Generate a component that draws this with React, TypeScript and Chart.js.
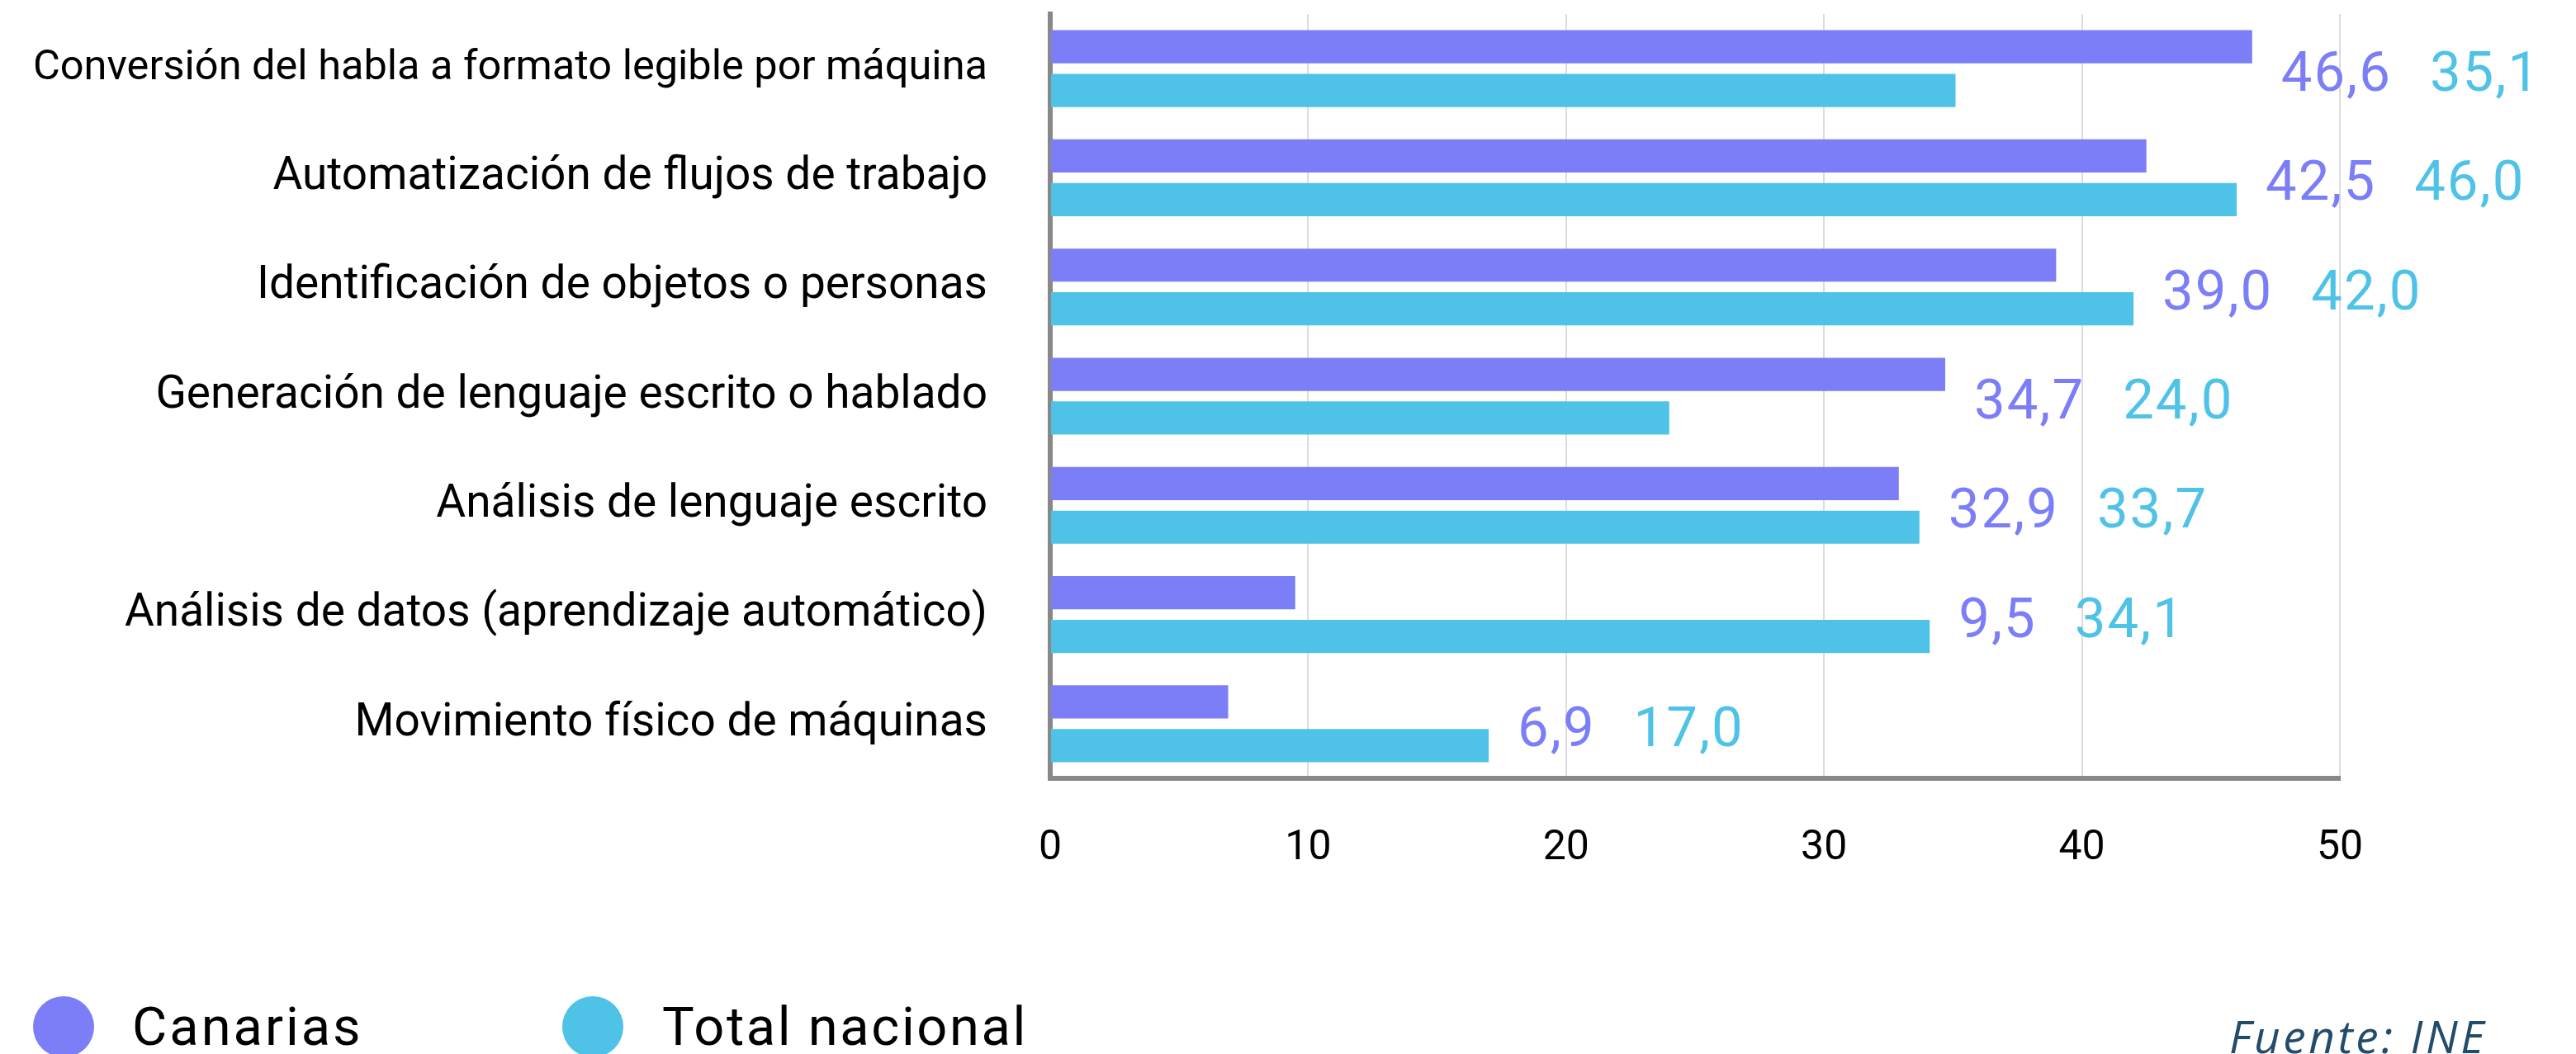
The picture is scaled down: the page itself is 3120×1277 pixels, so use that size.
import React, { useEffect, useRef } from "react";
import { Chart, registerables } from "chart.js";

Chart.register(...registerables);

const categories = [
  "Conversión del habla a formato legible por máquina",
  "Automatización de flujos de trabajo",
  "Identificación de objetos o personas",
  "Generación de lenguaje escrito o hablado",
  "Análisis de lenguaje escrito",
  "Análisis de datos (aprendizaje automático)",
  "Movimiento físico de máquinas",
];
const canariasValues = [46.6, 42.5, 39.0, 34.7, 32.9, 9.5, 6.9];
const nacionalValues = [35.1, 46.0, 42.0, 24.0, 33.7, 34.1, 17.0];
const seriesNames = ["Canarias", "Total nacional"];
const sourceText = "Fuente: INE";

const PURPLE = "#7b7ef7";
const CYAN = "#4fc2e7";
const FONT = "Roboto";

const fmt = (v: number) => v.toFixed(1).replace(".", ",");

const valueLabelPlugin = {
  id: "valueLabels",
  afterDatasetsDraw(chart: any) {
    const ctx = chart.ctx;
    const m0 = chart.getDatasetMeta(0);
    const m1 = chart.getDatasetMeta(1);
    ctx.save();
    ctx.font = `67px ${FONT}`;
    (ctx as any).letterSpacing = "2px";
    ctx.textBaseline = "alphabetic";
    ctx.textAlign = "left";
    for (let i = 0; i < categories.length; i++) {
      const b0 = m0.data[i];
      const b1 = m1.data[i];
      const x = Math.max(b0.x, b1.x) + 35;
      const y = (b0.y + b1.y) / 2 + 27;
      const t0 = fmt(chart.data.datasets[0].data[i]);
      const t1 = fmt(chart.data.datasets[1].data[i]);
      ctx.fillStyle = chart.data.datasets[0].backgroundColor;
      ctx.fillText(t0, x, y);
      const w0 = ctx.measureText(t0).width;
      ctx.fillStyle = chart.data.datasets[1].backgroundColor;
      ctx.fillText(t1, x + w0 + 46, y);
    }
    ctx.restore();
  },
};

const legendPlugin = {
  id: "customLegend",
  afterDraw(chart: any) {
    const ctx = chart.ctx;
    const items = [
      { cx: 77, tx: 160 },
      { cx: 718, tx: 802 },
    ];
    ctx.save();
    chart.data.datasets.forEach((ds: any, i: number) => {
      const it = items[i];
      ctx.fillStyle = ds.backgroundColor;
      ctx.beginPath();
      ctx.arc(it.cx, 1244, 37, 0, Math.PI * 2);
      ctx.fill();
      ctx.fillStyle = "#000";
      ctx.font = `65px ${FONT}`;
      (ctx as any).letterSpacing = i === 0 ? "3px" : "2.6px";
      ctx.textBaseline = "alphabetic";
      ctx.textAlign = "left";
      ctx.fillText(ds.label, it.tx, 1266);
    });
    ctx.fillStyle = "#234b6b";
    ctx.font = `italic 55px "Open Sans"`;
    (ctx as any).letterSpacing = "3.6px";
    ctx.fillText(sourceText, 2700, 1276);
    ctx.restore();
  },
};

export default function App() {
  const ref = useRef<HTMLCanvasElement>(null);
  useEffect(() => {
    if (!ref.current) return;
    const chart = new Chart(ref.current, {
      type: "bar",
      data: {
        labels: categories,
        datasets: [
          {
            label: seriesNames[0],
            data: canariasValues,
            backgroundColor: PURPLE,
            borderWidth: 0,
          },
          {
            label: seriesNames[1],
            data: nacionalValues,
            backgroundColor: CYAN,
            borderWidth: 0,
          },
        ],
      },
      options: {
        indexAxis: "y",
        animation: false,
        responsive: false,
        devicePixelRatio: 1,
        datasets: {
          bar: { categoryPercentage: 0.8, barPercentage: 0.76 },
        },
        layout: { padding: { top: 17, right: 286, left: 0, bottom: 0 } },
        plugins: {
          legend: { display: false },
          tooltip: { enabled: false },
        },
        scales: {
          x: {
            min: 0,
            max: 50,
            ticks: {
              stepSize: 10,
              color: "#000",
              font: { family: FONT, size: 50 },
              padding: 55,
            },
            grid: { color: "#dcdcdc", lineWidth: 2, drawTicks: false },
            border: { color: "#888888", width: 6 },
            afterFit(scale: any) {
              scale.height = 334;
              scale.paddingTop = 0;
              scale.paddingBottom = 0;
            },
          },
          y: {
            ticks: {
              color: "#000",
              font: (c: any) => ({ family: FONT, size: c.index === 0 ? 50.5 : 55 }),
              padding: 76,
            },
            grid: { display: false, drawTicks: false },
            border: { color: "#888888", width: 6 },
            afterFit(scale: any) {
              scale.width = 1272;
              scale.paddingTop = 0;
              scale.paddingBottom = 0;
            },
          },
        },
      },
      plugins: [valueLabelPlugin, legendPlugin],
    });
    return () => chart.destroy();
  }, []);

  return (
    <div style={{ position: "absolute", left: 0, top: 0, width: 3120, height: 1277, background: "#fff" }}>
      <canvas ref={ref} width={3120} height={1277} style={{ width: 3120, height: 1277 }} />
    </div>
  );
}
